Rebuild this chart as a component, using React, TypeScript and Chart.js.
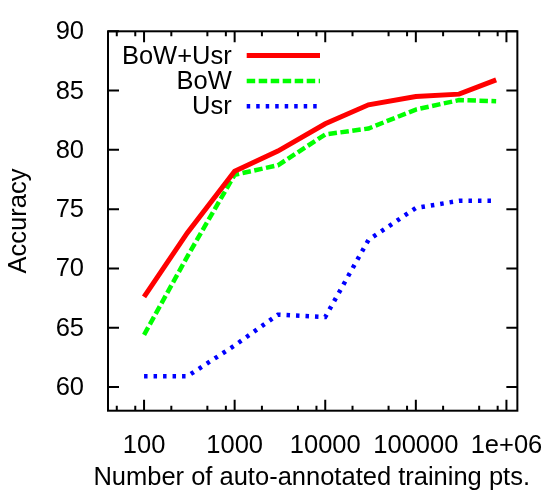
import { useEffect, useRef } from 'react';
import { Chart, registerables } from 'chart.js';

Chart.register(...registerables);

const trainingPoints = [100, 300, 1000, 3000, 10000, 30000, 100000, 300000, 770000];
const bowUsrAccuracy = [67.6, 73.0, 78.2, 79.9, 82.2, 83.8, 84.5, 84.7, 85.9];
const bowAccuracy = [64.4, 71.0, 77.9, 78.7, 81.3, 81.8, 83.4, 84.2, 84.1];
const usrAccuracy = [60.9, 60.9, 63.5, 66.1, 65.9, 72.4, 75.1, 75.7, 75.7];

const seriesLabels = ['BoW+Usr', 'BoW', 'Usr'];
const xTitle = 'Number of auto-annotated training pts.';
const yTitle = 'Accuracy';
const xMajorTicks = [100, 1000, 10000, 100000, 1000000];
const xTickLabels = ['100', '1000', '10000', '100000', '1e+06'];
const xMinorTicks = [50, 80, 200, 500, 800, 2000, 5000, 8000, 20000, 50000, 80000, 200000, 500000, 800000];
const yTicks = [60, 65, 70, 75, 80, 85, 90];

const FONT = 'Liberation Sans, Arial, Helvetica, sans-serif';
const FONT_SIZE = 25.5;

const framePlugin = {
  id: 'gnuplotFrame',
  afterDraw(chart: any) {
    const { ctx, chartArea } = chart;
    const { left, right, top, bottom } = chartArea;
    const xs = chart.scales.x;
    const ys = chart.scales.y;
    ctx.save();
    ctx.strokeStyle = '#000';
    ctx.lineWidth = 2;
    ctx.lineCap = 'butt';
    ctx.beginPath();
    const tick = (px: number, len: number) => {
      ctx.moveTo(px, bottom);
      ctx.lineTo(px, bottom - len);
      ctx.moveTo(px, top);
      ctx.lineTo(px, top + len);
    };
    xMajorTicks.forEach((v) => tick(xs.getPixelForValue(v), 11));
    xMinorTicks.forEach((v) => tick(xs.getPixelForValue(v), 5));
    yTicks.forEach((v) => {
      const py = ys.getPixelForValue(v);
      ctx.moveTo(left, py);
      ctx.lineTo(left + 11, py);
      ctx.moveTo(right, py);
      ctx.lineTo(right - 11, py);
    });
    ctx.stroke();
    ctx.strokeRect(left, top, right - left, bottom - top);

    ctx.font = `${FONT_SIZE}px ${FONT}`;
    ctx.fillStyle = '#000';

    // x-axis title (drawn here so it is not squeezed to the plot width)
    ctx.textAlign = 'center';
    ctx.textBaseline = 'alphabetic';
    ctx.fillText(xTitle, (left + right) / 2 - 1, bottom + 74.3);

    // key (legend), gnuplot style
    ctx.textAlign = 'right';
    ctx.textBaseline = 'middle';
    chart.data.datasets.forEach((ds: any, i: number) => {
      const y = top + 24.3 + i * 25.3;
      ctx.fillText(ds.label, left + 123.7, y + 1);
      ctx.save();
      ctx.strokeStyle = ds.borderColor;
      ctx.lineWidth = ds.borderWidth;
      ctx.setLineDash(ds.borderDash || []);
      ctx.beginPath();
      ctx.moveTo(left + 138.7, y);
      ctx.lineTo(left + 212, y);
      ctx.stroke();
      ctx.restore();
    });
    ctx.restore();
  },
};

export default function App() {
  const canvasRef = useRef<HTMLCanvasElement | null>(null);

  useEffect(() => {
    if (!canvasRef.current) return;
    const toPoints = (vals: number[]) => vals.map((y, i) => ({ x: trainingPoints[i], y }));
    const chart = new Chart(canvasRef.current, {
      type: 'line',
      data: {
        datasets: [
          {
            label: seriesLabels[0],
            data: toPoints(bowUsrAccuracy),
            borderColor: '#ff0000',
            borderWidth: 5,
            borderDash: [],
            pointRadius: 0,
            tension: 0,
            borderCapStyle: 'butt',
          },
          {
            label: seriesLabels[1],
            data: toPoints(bowAccuracy),
            borderColor: '#00ff00',
            borderWidth: 4.5,
            borderDash: [8.5, 3.5],
            pointRadius: 0,
            tension: 0,
            borderCapStyle: 'butt',
          },
          {
            label: seriesLabels[2],
            data: toPoints(usrAccuracy),
            borderColor: '#0000ff',
            borderWidth: 4.5,
            borderDash: [3.5, 6],
            pointRadius: 0,
            tension: 0,
            borderCapStyle: 'butt',
          },
        ],
      },
      options: {
        animation: false,
        responsive: false,
        devicePixelRatio: 1,
        layout: { padding: { top: 17, right: 32, left: 0, bottom: 0 } },
        plugins: { legend: { display: false }, tooltip: { enabled: false } },
        scales: {
          x: {
            type: 'logarithmic',
            min: 40,
            max: 1320000,
            grid: { display: false },
            border: { display: false },
            afterBuildTicks: (scale: any) => {
              scale.ticks = xMajorTicks.map((v) => ({ value: v }));
            },
            afterFit: (scale: any) => {
              scale.height = 79.3;
            },
            ticks: {
              autoSkip: false,
              maxRotation: 0,
              minRotation: 0,
              padding: 11.9,
              color: '#000',
              font: { family: FONT, size: FONT_SIZE },
              callback: (value: any) => {
                const idx = xMajorTicks.indexOf(Number(value));
                return idx >= 0 ? xTickLabels[idx] : '';
              },
            },
            title: { display: false },
          },
          y: {
            type: 'linear',
            min: 58,
            max: 90,
            grid: { display: false },
            border: { display: false },
            afterBuildTicks: (scale: any) => {
              scale.ticks = yTicks.map((v) => ({ value: v }));
            },
            afterFit: (scale: any) => {
              scale.width = 108;
            },
            ticks: {
              padding: 16,
              labelOffset: 1,
              color: '#000',
              font: { family: FONT, size: FONT_SIZE },
              callback: (value: any) => String(value),
            },
            title: {
              display: true,
              text: yTitle,
              color: '#000',
              font: { family: FONT, size: FONT_SIZE },
              padding: { top: 3.2, bottom: 0 },
            },
          },
        },
      },
      plugins: [framePlugin],
    } as any);
    return () => chart.destroy();
  }, []);

  return (
    <div style={{ position: 'fixed', left: 0, top: 0, width: 555, height: 490, background: '#fff' }}>
      <canvas ref={canvasRef} width={555} height={490} />
    </div>
  );
}
